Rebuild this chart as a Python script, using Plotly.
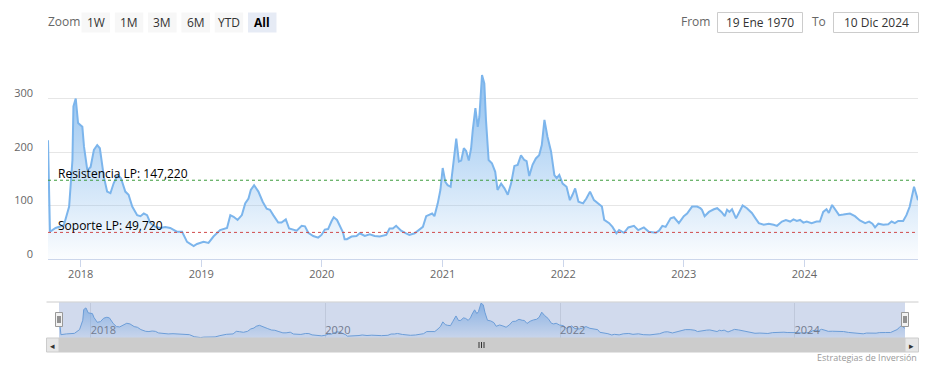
import plotly.graph_objects as go

# ---------------- data ----------------
dates = [
    "2017-09-24", "2017-09-30", "2017-10-17", "2017-11-11", "2017-11-27", "2017-12-07", "2017-12-10",
    "2017-12-17", "2017-12-24", "2018-01-06", "2018-01-11", "2018-01-21", "2018-01-31", "2018-02-10",
    "2018-02-20", "2018-02-28", "2018-03-12", "2018-03-22", "2018-04-01", "2018-04-11", "2018-04-23",
    "2018-05-03", "2018-05-16", "2018-05-26", "2018-06-06", "2018-06-21", "2018-07-01", "2018-07-11",
    "2018-07-21", "2018-07-31", "2018-08-15", "2018-08-30", "2018-09-14", "2018-09-29", "2018-10-19",
    "2018-11-04", "2018-11-19", "2018-12-09", "2018-12-19", "2019-01-08", "2019-01-23", "2019-02-07",
    "2019-02-27", "2019-03-20", "2019-03-30", "2019-04-09", "2019-04-21", "2019-05-04", "2019-05-14",
    "2019-05-24", "2019-05-31", "2019-06-10", "2019-06-23", "2019-07-06", "2019-07-18", "2019-07-28",
    "2019-08-07", "2019-08-22", "2019-09-01", "2019-09-14", "2019-09-24", "2019-10-07", "2019-10-17",
    "2019-11-01", "2019-11-11", "2019-11-21", "2019-12-06", "2019-12-21", "2019-12-31", "2020-01-10",
    "2020-01-20", "2020-01-30", "2020-02-06", "2020-02-16", "2020-02-27", "2020-03-05", "2020-03-10",
    "2020-03-17", "2020-03-31", "2020-04-15", "2020-04-25", "2020-05-10", "2020-05-25", "2020-06-09",
    "2020-06-24", "2020-07-14", "2020-07-24", "2020-08-03", "2020-08-13", "2020-08-28", "2020-09-12",
    "2020-09-22", "2020-10-08", "2020-10-23", "2020-11-02", "2020-11-12", "2020-11-22", "2020-11-30",
    "2020-12-07", "2020-12-17", "2020-12-25", "2021-01-01", "2021-01-09", "2021-01-16", "2021-01-25",
    "2021-02-01", "2021-02-11", "2021-02-19", "2021-02-26", "2021-03-06", "2021-03-13", "2021-03-21",
    "2021-03-28", "2021-04-02", "2021-04-10", "2021-04-17", "2021-04-22", "2021-04-30", "2021-05-07",
    "2021-05-12", "2021-05-20", "2021-05-30", "2021-06-09", "2021-06-16", "2021-06-27", "2021-07-07",
    "2021-07-17", "2021-07-27", "2021-08-06", "2021-08-16", "2021-08-26", "2021-09-05", "2021-09-12",
    "2021-09-20", "2021-09-30", "2021-10-10", "2021-10-20", "2021-10-28", "2021-11-05", "2021-11-14",
    "2021-11-25", "2021-12-05", "2021-12-12", "2021-12-20", "2021-12-30", "2022-01-11", "2022-01-21",
    "2022-01-29", "2022-02-06", "2022-02-16", "2022-03-02", "2022-03-12", "2022-03-23", "2022-04-04",
    "2022-04-17", "2022-04-28", "2022-05-05", "2022-05-20", "2022-05-30", "2022-06-11", "2022-06-19",
    "2022-07-04", "2022-07-17", "2022-08-03", "2022-08-16", "2022-09-02", "2022-09-17", "2022-10-08",
    "2022-10-18", "2022-10-28", "2022-11-07", "2022-11-22", "2022-12-02", "2022-12-17", "2023-01-01",
    "2023-01-11", "2023-01-26", "2023-02-10", "2023-02-20", "2023-02-25", "2023-03-05", "2023-03-18",
    "2023-04-02", "2023-04-12", "2023-04-25", "2023-05-05", "2023-05-12", "2023-05-19", "2023-05-27",
    "2023-06-08", "2023-06-18", "2023-06-28", "2023-07-11", "2023-07-26", "2023-08-06", "2023-08-16",
    "2023-08-31", "2023-09-15", "2023-09-30", "2023-10-10", "2023-10-25", "2023-11-06", "2023-11-19",
    "2023-11-29", "2023-12-09", "2023-12-19", "2023-12-29", "2024-01-08", "2024-01-23", "2024-02-07",
    "2024-02-17", "2024-02-27", "2024-03-08", "2024-03-15", "2024-03-25", "2024-04-05", "2024-04-15",
    "2024-04-28", "2024-05-18", "2024-06-02", "2024-06-17", "2024-07-03", "2024-07-15", "2024-07-25",
    "2024-08-02", "2024-08-12", "2024-08-27", "2024-09-11", "2024-09-21", "2024-10-01", "2024-10-11",
    "2024-10-26", "2024-11-05", "2024-11-15", "2024-11-22", "2024-11-28", "2024-12-10",
]
values = [
    222, 51, 58, 63, 98, 185, 285,
    300, 254, 247, 210, 166, 172, 204,
    213, 207, 154, 126, 123, 142, 157,
    151, 126, 120, 98, 82, 80, 85,
    82, 67, 60, 58, 60, 58, 51,
    51, 32, 24, 28, 32, 30, 42,
    54, 58, 82, 79, 73, 82, 104,
    113, 129, 138, 126, 107, 94, 92,
    82, 68, 68, 74, 57, 55, 53,
    62, 61, 49, 43, 40, 45, 55,
    56, 70, 78, 73, 60, 50, 37,
    37, 42, 43, 48, 43, 46, 43,
    42, 45, 57, 57, 62, 53, 48,
    45, 48, 55, 60, 80, 82, 85,
    80, 104, 129, 170, 144, 138, 135,
    173, 225, 182, 184, 207, 202, 184,
    207, 241, 282, 247, 266, 344, 328,
    260, 185, 179, 163, 129, 141, 132,
    120, 141, 174, 176, 194, 185, 183,
    155, 176, 188, 194, 213, 260, 229,
    201, 157, 151, 157, 141, 135, 110,
    120, 132, 107, 104, 113, 126, 110,
    104, 98, 73, 67, 60, 48, 54,
    49, 59, 62, 54, 59, 51, 49,
    53, 62, 60, 76, 78, 67, 80,
    85, 98, 98, 95, 92, 80, 88,
    93, 95, 88, 80, 92, 88, 93,
    76, 88, 100, 95, 86, 76, 67,
    64, 66, 64, 62, 70, 73, 70,
    74, 71, 73, 68, 70, 67, 70,
    70, 88, 93, 86, 101, 92, 82,
    83, 85, 80, 72, 67, 70, 66,
    59, 66, 64, 65, 70, 67, 71,
    71, 82, 98, 116, 135, 110,
]
resistance = 147.22
support = 49.72
resistance_label = "Resistencia LP: 147,220"
support_label = "Soporte LP: 49,720"
y_ticks = [0, 100, 200, 300, 400]
y_tick_text = ["0", "100", "200", "300", ""]
x_ticks = ["2018-01-01", "2019-01-01", "2020-01-01", "2021-01-01",
           "2022-01-01", "2023-01-01", "2024-01-01"]
nav_ticks = ["2018-01-01", "2020-01-01", "2022-01-01", "2024-01-01"]
nav_y_range = [20, 350]
buttons = ["1W", "1M", "3M", "6M", "YTD", "All"]
from_text = "19 Ene 1970"
to_text = "10 Dic 2024"
credits = "Estrategias de Inversión"

# ---------------- geometry helpers (pixel -> paper) ----------------
W, H = 939, 370
L, R, T, B = 48, 21, 45, 18
PW, PH = W - L - R, H - T - B


def px(x):
    return (x - L) / PW


def py(y):
    return (H - B - y) / PH


FONT = "Open Sans, DejaVu Sans, sans-serif"
BLUE = "#7cb5ec"

fig = go.Figure()
fig.add_trace(go.Scatter(
    x=dates, y=values, mode="lines", xaxis="x", yaxis="y",
    line=dict(color=BLUE, width=2),
    fill="tozeroy",
    fillgradient=dict(type="vertical",
                      colorscale=[[0, "rgba(124,181,236,0.03)"], [1, "rgba(124,181,236,0.85)"]]),
    hoverinfo="x+y", showlegend=False,
))
fig.add_trace(go.Scatter(
    x=dates, y=values, mode="lines", xaxis="x2", yaxis="y2",
    line=dict(color="#6fa8e0", width=1),
    fill="tozeroy",
    fillgradient=dict(type="vertical",
                      colorscale=[[0, "rgba(124,181,236,0.05)"], [1, "rgba(124,181,236,0.8)"]]),
    hoverinfo="skip", showlegend=False,
))

shapes = []
annotations = []


def label(x, y, text, size=12, color="#333333", xanchor="center", xref="paper", yref="paper"):
    annotations.append(dict(xref=xref, yref=yref, x=x, y=y, xanchor=xanchor, yanchor="middle",
                            text=text, showarrow=False, borderpad=0,
                            font=dict(family=FONT, size=size, color=color)))


# plot lines
for val, col, txt in [(resistance, "#3c9b3c", resistance_label), (support, "#d04a4a", support_label)]:
    shapes.append(dict(type="line", xref="x domain", yref="y", x0=0, x1=1, y0=val, y1=val,
                       line=dict(color=col, width=1, dash="dot"), layer="above"))
    annotations.append(dict(xref="x domain", yref="y", x=px(57) / px(918), y=val, xanchor="left",
                            yanchor="middle", yshift=7, text=txt, showarrow=False, borderpad=0,
                            font=dict(family=FONT, size=12, color="#000000")))

# navigator: top outline, overlay mask, handles
shapes.append(dict(type="line", xref="paper", yref="paper", x0=px(46.5), x1=px(918.5),
                   y0=py(302), y1=py(302), line=dict(color="#cccccc", width=1)))
shapes.append(dict(type="rect", xref="paper", yref="paper", x0=px(59), x1=px(905),
                   y0=py(338), y1=py(302.5), fillcolor="rgba(102,133,194,0.3)",
                   line=dict(width=0), layer="above"))
for hx in (59, 905):
    shapes.append(dict(type="rect", xref="paper", yref="paper", x0=px(hx - 3.5), x1=px(hx + 3.5),
                       y0=py(326.5), y1=py(312.5), fillcolor="#f2f2f2",
                       line=dict(color="#999999", width=1), layer="above"))
    for lx in (hx - 1, hx + 1):
        shapes.append(dict(type="line", xref="paper", yref="paper", x0=px(lx), x1=px(lx),
                           y0=py(323), y1=py(316), line=dict(color="#333333", width=1), layer="above"))

# scrollbar
shapes.append(dict(type="rect", xref="paper", yref="paper", x0=px(46.5), x1=px(918.5),
                   y0=py(352), y1=py(338), fillcolor="#f2f2f2", line=dict(width=0)))
shapes.append(dict(type="rect", xref="paper", yref="paper", x0=px(59), x1=px(905),
                   y0=py(352), y1=py(338), fillcolor="#cccccc", line=dict(color="#cccccc", width=1)))
for bx0, bx1 in ((46.5, 59), (905, 918.5)):
    shapes.append(dict(type="rect", xref="paper", yref="paper", x0=px(bx0), x1=px(bx1),
                       y0=py(352), y1=py(338), fillcolor="#e6e6e6",
                       line=dict(color="#cccccc", width=1)))
for gx in (479, 481.5, 484):
    shapes.append(dict(type="line", xref="paper", yref="paper", x0=px(gx), x1=px(gx),
                       y0=py(348), y1=py(342), line=dict(color="#333333", width=1)))
label(px(52.8), py(345), "◂", size=9, color="#333333")
label(px(911.7), py(345), "▸", size=9, color="#333333")

# range selector
label(px(47), py(22), "Zoom", color="#666666", xanchor="left")
bx = 81.5
for b in buttons:
    sel = b == "All"
    shapes.append(dict(type="rect", xref="paper", yref="paper", x0=px(bx), x1=px(bx + 28.5),
                       y0=py(32.5), y1=py(12.5), fillcolor="#e6ebf5" if sel else "#f7f7f7",
                       line=dict(width=0)))
    label(px(bx + 14.25), py(22.5), f"<b>{b}</b>" if sel else b,
          color="#000000" if sel else "#333333")
    bx += 33.3

# From / To inputs
label(px(711), py(22), "From", color="#666666", xanchor="right")
label(px(827), py(22), "To", color="#666666", xanchor="right")
for x0, x1, txt in ((717.5, 802.5, from_text), (833.5, 918.5, to_text)):
    shapes.append(dict(type="rect", xref="paper", yref="paper", x0=px(x0), x1=px(x1),
                       y0=py(32.5), y1=py(12.5), fillcolor="#ffffff",
                       line=dict(color="#cccccc", width=1)))
    label(px((x0 + x1) / 2), py(22.5), txt, color="#333333")

# credits
label(px(918), py(357), credits, size=9, color="#999999", xanchor="right")

fig.update_layout(
    width=W, height=H,
    margin=dict(l=L, r=R, t=T, b=B, autoexpand=False),
    paper_bgcolor="#ffffff", plot_bgcolor="#ffffff",
    showlegend=False,
    font=dict(family=FONT, size=11, color="#666666"),
    xaxis=dict(domain=[0, 1], anchor="y", range=[dates[0], dates[-1]], automargin=False,
               tickvals=x_ticks, tickformat="%Y", showgrid=False, zeroline=False,
               showline=True, linecolor="#ccd6eb", linewidth=1,
               ticks="outside", ticklen=7, tickcolor="#ccd6eb", ticklabelstandoff=-2,
               tickfont=dict(family=FONT, size=11, color="#666666")),
    yaxis=dict(domain=[py(259), 1], anchor="x", range=[0, 400], automargin=False,
               tickvals=y_ticks, ticktext=y_tick_text, showgrid=True, gridcolor="#e6e6e6",
               zeroline=False, showline=False, ticks="", ticklabelstandoff=14,
               ticklabelshift=-5,
               tickfont=dict(family=FONT, size=11, color="#666666")),
    xaxis2=dict(domain=[px(59), px(905)], anchor="y2", range=[dates[0], dates[-1]], automargin=False,
                tickvals=nav_ticks, tickformat="%Y", showgrid=True, gridcolor="#e6e6e6",
                zeroline=False, showline=False, ticks="",
                ticklabelposition="inside right", ticklabelstandoff=-4,
                tickfont=dict(family=FONT, size=11, color="#777777")),
    yaxis2=dict(domain=[py(338), py(302.5)], anchor="x2", range=nav_y_range, automargin=False,
                showgrid=False, showticklabels=False, zeroline=False, showline=False, ticks=""),
    shapes=shapes,
    annotations=annotations,
)

fig.write_html("out.html", config={"displayModeBar": False},
               post_script="document.body.style.margin='0px';")
